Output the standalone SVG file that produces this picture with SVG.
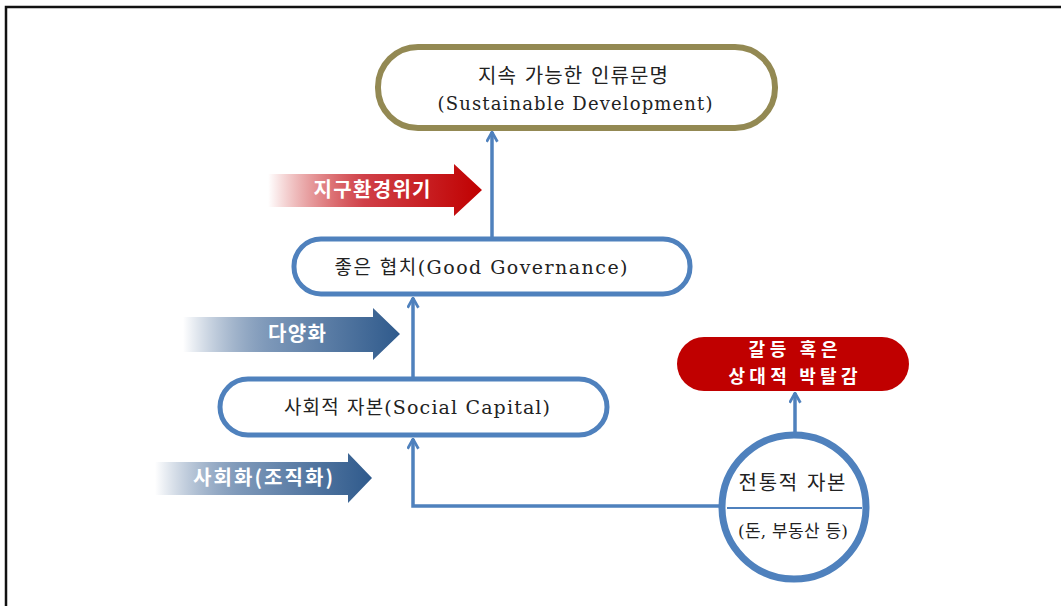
<svg xmlns="http://www.w3.org/2000/svg" width="1061" height="606" viewBox="0 0 1061 606">
  <defs>
    <linearGradient id="gRed" x1="0" y1="0" x2="1" y2="0">
      <stop offset="0" stop-color="#c00000" stop-opacity="0"/>
      <stop offset="0.45" stop-color="#d04048"/>
      <stop offset="1" stop-color="#c00000"/>
    </linearGradient>
    <linearGradient id="gBlue" x1="0" y1="0" x2="1" y2="0">
      <stop offset="0" stop-color="#3a6090" stop-opacity="0"/>
      <stop offset="0.4" stop-color="#7c97b8"/>
      <stop offset="1" stop-color="#2f5a8c"/>
    </linearGradient>
    <marker id="arrowUp" viewBox="0 0 12 12" refX="11" refY="6" markerWidth="13" markerHeight="13" markerUnits="userSpaceOnUse" orient="auto">
      <path d="M2,1 L11,6 L2,11" fill="none" stroke="#4f81bd" stroke-width="2.5"/>
    </marker>
    <style>
      .node { fill: #ffffff; stroke: #4f81bd; stroke-width: 5; }
      .label { font-family: "DejaVu Serif", "Noto Sans CJK KR", serif; font-size: 19px; fill: #222; text-anchor: middle; }
      .tag { font-family: "Noto Sans CJK KR", "Liberation Sans", sans-serif; font-size: 20px; font-weight: bold; fill: #ffffff; text-anchor: middle; }
      .tag.small { font-size: 18px; }
      .link { fill: none; stroke: #4f81bd; stroke-width: 3.5; }
    </style>
  </defs>

  <rect width="1061" height="606" fill="#ffffff"/>
  <!-- frame -->
  <path d="M6,606 V7 H1061" fill="none" stroke="#111" stroke-width="2.5"/>

  <!-- connectors -->
  <g id="connectors">
    <path class="link" d="M492,237 V132" marker-end="url(#arrowUp)"/>
    <path class="link" d="M413,377 V298" marker-end="url(#arrowUp)"/>
    <path class="link" d="M719,506 H413 V439" marker-end="url(#arrowUp)"/>
    <path class="link" d="M795,432 V393" stroke-width="2.5" marker-end="url(#arrowUp)"/>
  </g>

  <!-- influence arrows -->
  <g id="arrow-crisis">
    <path d="M268,174 H454 V164 L482,190 L454,216 V207 H268 Z" fill="url(#gRed)"/>
    <text class="tag" x="372" y="197" textLength="117" lengthAdjust="spacing">지구환경위기</text>
  </g>
  <g id="arrow-diversity">
    <path d="M183,317 H373 V308 L400,334 L373,360 V352 H183 Z" fill="url(#gBlue)"/>
    <text class="tag" x="297" y="341" textLength="58" lengthAdjust="spacing">다양화</text>
  </g>
  <g id="arrow-socialization">
    <path d="M155,462 H348 V453 L372,478 L348,503 V495 H155 Z" fill="url(#gBlue)"/>
    <text class="tag" x="263" y="485" textLength="140" lengthAdjust="spacing">사회화(조직화)</text>
  </g>

  <!-- nodes -->
  <g id="node-sustainable">
    <rect x="378" y="47" width="397" height="81" rx="40" fill="#ffffff" stroke="#938953" stroke-width="6"/>
    <text class="label" x="573" y="83" style="font-size:20px" textLength="190" lengthAdjust="spacing">지속 가능한 인류문명</text>
    <text class="label" x="575" y="110" style="font-size:18px" textLength="275" lengthAdjust="spacing">(Sustainable Development)</text>
  </g>
  <g id="node-governance">
    <rect class="node" x="294" y="239" width="396" height="55" rx="27"/>
    <text class="label" x="481" y="274" textLength="293" lengthAdjust="spacing">좋은 협치(Good Governance)</text>
  </g>
  <g id="node-social-capital">
    <rect class="node" x="220" y="379" width="387" height="56" rx="28"/>
    <text class="label" x="417" y="414" textLength="266" lengthAdjust="spacing">사회적 자본(Social Capital)</text>
  </g>
  <g id="node-conflict">
    <rect x="677" y="337" width="232" height="54" rx="27" fill="#c00000"/>
    <text class="tag small" x="793" y="356" textLength="89" lengthAdjust="spacing">갈등 혹은</text>
    <text class="tag small" x="793" y="383" textLength="129" lengthAdjust="spacing">상대적 박탈감</text>
  </g>
  <g id="node-traditional-capital">
    <circle cx="794" cy="507" r="72" fill="#ffffff" stroke="#4f81bd" stroke-width="7"/>
    <line x1="727" y1="508" x2="862" y2="508" stroke="#4f81bd" stroke-width="2"/>
    <text class="label" x="792" y="490" style="font-size:20px" textLength="107" lengthAdjust="spacing">전통적 자본</text>
    <text class="label" x="793" y="537" style="font-size:17px" textLength="110" lengthAdjust="spacing">(돈, 부동산 등)</text>
  </g>
</svg>
